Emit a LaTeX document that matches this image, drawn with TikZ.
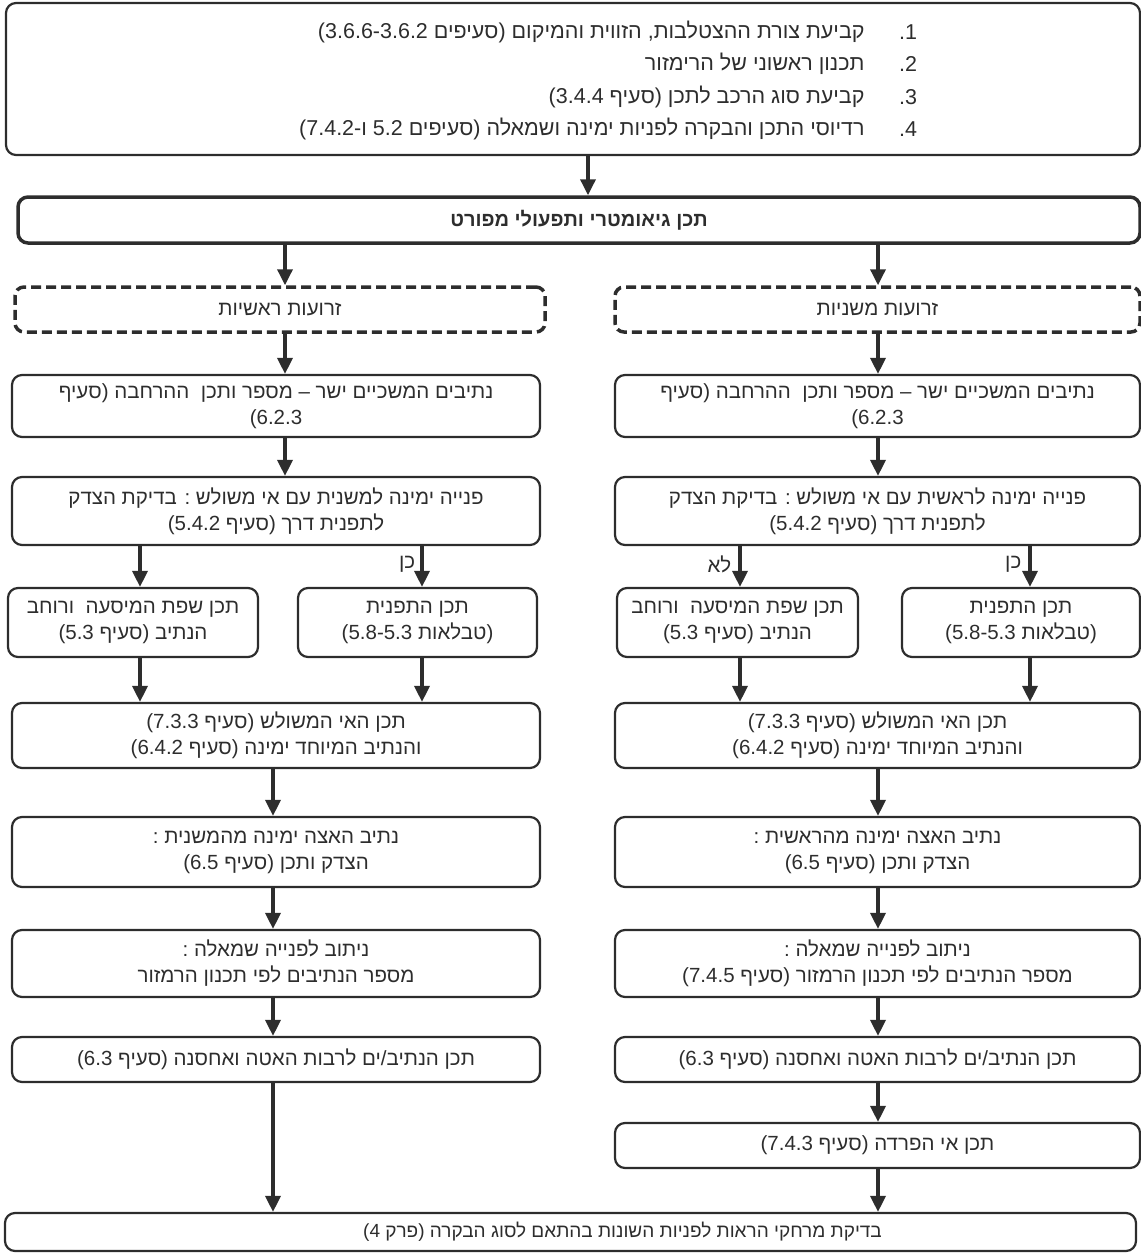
\documentclass[tikz,border=0pt]{standalone}
\usepackage{fontspec}
\setmainfont{Liberation Sans}
\newfontfamily\heb[Script=Hebrew]{Liberation Sans}
\TeXXeTstate=1
\usetikzlibrary{arrows.meta}
\definecolor{ink}{HTML}{2d2d2d}
\newcommand\RL[1]{\beginR#1\endR}
\newcommand\po{\hbox{)}}
\newcommand\pc{\hbox{(}}
\newcommand\hb[1]{\hbox{#1}}
\begin{document}
\begin{tikzpicture}[x=1pt,y=-1pt,
  txt/.style={font=\heb\fontsize{20.5}{26}\selectfont, text=ink},
  box/.style={txt, draw=ink, line width=2.2pt, rounded corners=10pt, inner sep=0pt, align=center},
  dbox/.style={txt, draw=ink, line width=3.5pt, dash pattern=on 10pt off 5pt, rounded corners=9pt, inner sep=0pt, align=center},
  arr/.style={draw=ink, line width=3.5pt, -{Triangle[length=16pt,width=15pt]}},
  lbl/.style={txt, inner sep=1pt},
  toptxt/.style={font=\heb\fontsize{21.5}{26}\selectfont, text=ink}]
\useasboundingbox (0,0) rectangle (1141,1254);
% column coordinates
\coordinate (cA) at (588,0);
\coordinate (cL) at (285,0);
\coordinate (cR) at (878,0);
\coordinate (cL2) at (273,0);
\coordinate (bLL) at (140,0);
\coordinate (bLR) at (422,0);
\coordinate (bRL) at (740,0);
\coordinate (bRR) at (1030,0);
% top box
\node[box, minimum width=1134pt, minimum height=152pt] (top) at (573,79) {};
\node[toptxt, anchor=east] (t1) at (868,32) {\RL{קביעת צורת ההצטלבות\hb{,} הזווית והמיקום \pc{}סעיפים 3.6.6-3.6.2\po}};
\node[toptxt, anchor=east] (t2) at (868,64) {\RL{תכנון ראשוני של הרימזור}};
\node[toptxt, anchor=east] (t3) at (868,97) {\RL{קביעת סוג הרכב לתכן \pc{}סעיף 3.4.4\po}};
\node[toptxt, anchor=east] (t4) at (868,129) {\RL{רדיוסי התכן והבקרה לפניות ימינה ושמאלה \pc{}סעיפים 5.2 ו\hb{-}\hb{7.4.2}\po}};
\node[toptxt] (n1) at (908,32) {1.};
\node[toptxt] (n2) at (908,64) {2.};
\node[toptxt] (n3) at (908,97) {3.};
\node[toptxt] (n4) at (908,129) {4.};
% title
\node[box, line width=3.5pt, minimum width=1122pt, minimum height=46pt, font=\heb\bfseries\fontsize{20}{24}\selectfont] (title) at (579,220) {\RL{תכן גיאומטרי ותפעולי מפורט}};
% dashed
\node[dbox, minimum width=530pt, minimum height=45pt] (dL) at (280,309.5) {\RL{זרועות ראשיות}};
\node[dbox, minimum width=525pt, minimum height=45pt] (dR) at (877.5,309.5) {\RL{זרועות משניות}};
% box 2
\node[box, minimum width=528pt, minimum height=62pt] (L2) at (276,406) {\RL{נתיבים המשכיים ישר – מספר ותכן\ \ ההרחבה \pc{}סעיף}\\\RL{6.2.3\po}};
\node[box, minimum width=525pt, minimum height=62pt] (R2) at (877.5,406) {\RL{נתיבים המשכיים ישר – מספר ותכן\ \ ההרחבה \pc{}סעיף}\\\RL{6.2.3\po}};
% box 3
\node[box, minimum width=528pt, minimum height=68pt] (L3) at (276,511) {\RL{פנייה ימינה למשנית עם אי משולש : בדיקת הצדק}\\\RL{לתפנית דרך \pc{}סעיף 5.4.2\po}};
\node[box, minimum width=525pt, minimum height=68pt] (R3) at (877.5,511) {\RL{פנייה ימינה לראשית עם אי משולש : בדיקת הצדק}\\\RL{לתפנית דרך \pc{}סעיף 5.4.2\po}};
% small boxes
\node[box, minimum width=250pt, minimum height=69pt] (LL) at (133,622.5) {\RL{תכן שפת המיסעה\ \ ורוחב}\\\RL{הנתיב \pc{}סעיף 5.3\po}};
\node[box, minimum width=239pt, minimum height=69pt] (LR) at (417.5,622.5) {\RL{תכן התפנית}\\\RL{\pc{}טבלאות 5.8-5.3\po}};
\node[box, minimum width=241pt, minimum height=69pt] (RLb) at (737.5,622.5) {\RL{תכן שפת המיסעה\ \ ורוחב}\\\RL{הנתיב \pc{}סעיף 5.3\po}};
\node[box, minimum width=238pt, minimum height=69pt] (RRb) at (1021,622.5) {\RL{תכן התפנית}\\\RL{\pc{}טבלאות 5.8-5.3\po}};
% box 4
\node[box, minimum width=528pt, minimum height=65pt] (L4) at (276,735.5) {\RL{תכן האי המשולש \pc{}סעיף 7.3.3\po}\\\RL{והנתיב המיוחד ימינה \pc{}סעיף 6.4.2\po}};
\node[box, minimum width=525pt, minimum height=65pt] (R4) at (877.5,735.5) {\RL{תכן האי המשולש \pc{}סעיף 7.3.3\po}\\\RL{והנתיב המיוחד ימינה \pc{}סעיף 6.4.2\po}};
% box 5
\node[box, minimum width=528pt, minimum height=70pt] (L5) at (276,852) {\RL{נתיב האצה ימינה מהמשנית :}\\\RL{הצדק ותכן \pc{}סעיף 6.5\po}};
\node[box, minimum width=525pt, minimum height=70pt] (R5) at (877.5,852) {\RL{נתיב האצה ימינה מהראשית :}\\\RL{הצדק ותכן \pc{}סעיף 6.5\po}};
% box 6
\node[box, minimum width=528pt, minimum height=67pt] (L6) at (276,963.5) {\RL{ניתוב לפנייה שמאלה :}\\\RL{מספר הנתיבים לפי תכנון הרמזור}};
\node[box, minimum width=525pt, minimum height=67pt] (R6) at (877.5,963.5) {\RL{ניתוב לפנייה שמאלה :}\\\RL{מספר הנתיבים לפי תכנון הרמזור \pc{}סעיף 7.4.5\po}};
% box 7
\node[box, minimum width=528pt, minimum height=45pt] (L7) at (276,1059.5) {\RL{תכן הנתיב\hb{/}ים לרבות האטה ואחסנה \pc{}סעיף 6.3\po}};
\node[box, minimum width=525pt, minimum height=45pt] (R7) at (877.5,1059.5) {\RL{תכן הנתיב\hb{/}ים לרבות האטה ואחסנה \pc{}סעיף 6.3\po}};
% separation island
\node[box, minimum width=525pt, minimum height=45pt] (R8) at (877.5,1145.5) {\RL{תכן אי הפרדה \pc{}סעיף 7.4.3\po}};
% final
\node[box, minimum width=1131pt, minimum height=38pt, font=\heb\fontsize{19}{24}\selectfont] (fin) at (570.5,1232) {\hspace*{104pt}\RL{בדיקת מרחקי הראות לפניות השונות בהתאם לסוג הבקרה \pc{}פרק 4\po}};
% connectors
\draw[arr] (top.south -| cA) -- (title.north -| cA);
\draw[arr] (title.south -| cL) -- (dL.north -| cL);
\draw[arr] (title.south -| cR) -- (dR.north -| cR);
\draw[arr] (dL.south -| cL) -- (L2.north -| cL);
\draw[arr] (dR.south -| cR) -- (R2.north -| cR);
\draw[arr] (L2.south -| cL) -- (L3.north -| cL);
\draw[arr] (R2.south -| cR) -- (R3.north -| cR);
\draw[arr] (L3.south -| bLL) -- (LL.north -| bLL);
\draw[arr] (L3.south -| bLR) -- (LR.north -| bLR) node[lbl, pos=0.45, left=4pt] (yL) {\RL{כן}};
\draw[arr] (R3.south -| bRL) -- (RLb.north -| bRL) node[lbl, pos=0.45, left=6pt] (nR) {\RL{לא}};
\draw[arr] (R3.south -| bRR) -- (RRb.north -| bRR) node[lbl, pos=0.45, left=6pt] (yR) {\RL{כן}};
\draw[arr] (LL.south -| bLL) -- (L4.north -| bLL);
\draw[arr] (LR.south -| bLR) -- (L4.north -| bLR);
\draw[arr] (RLb.south -| bRL) -- (R4.north -| bRL);
\draw[arr] (RRb.south -| bRR) -- (R4.north -| bRR);
\draw[arr] (L4.south -| cL2) -- (L5.north -| cL2);
\draw[arr] (R4.south -| cR) -- (R5.north -| cR);
\draw[arr] (L5.south -| cL2) -- (L6.north -| cL2);
\draw[arr] (R5.south -| cR) -- (R6.north -| cR);
\draw[arr] (L6.south -| cL2) -- (L7.north -| cL2);
\draw[arr] (R6.south -| cR) -- (R7.north -| cR);
\draw[arr] (R7.south -| cR) -- (R8.north -| cR);
\draw[arr] (L7.south -| cL2) -- (fin.north -| cL2);
\draw[arr] (R8.south -| cR) -- (fin.north -| cR);
\end{tikzpicture}
\end{document}
